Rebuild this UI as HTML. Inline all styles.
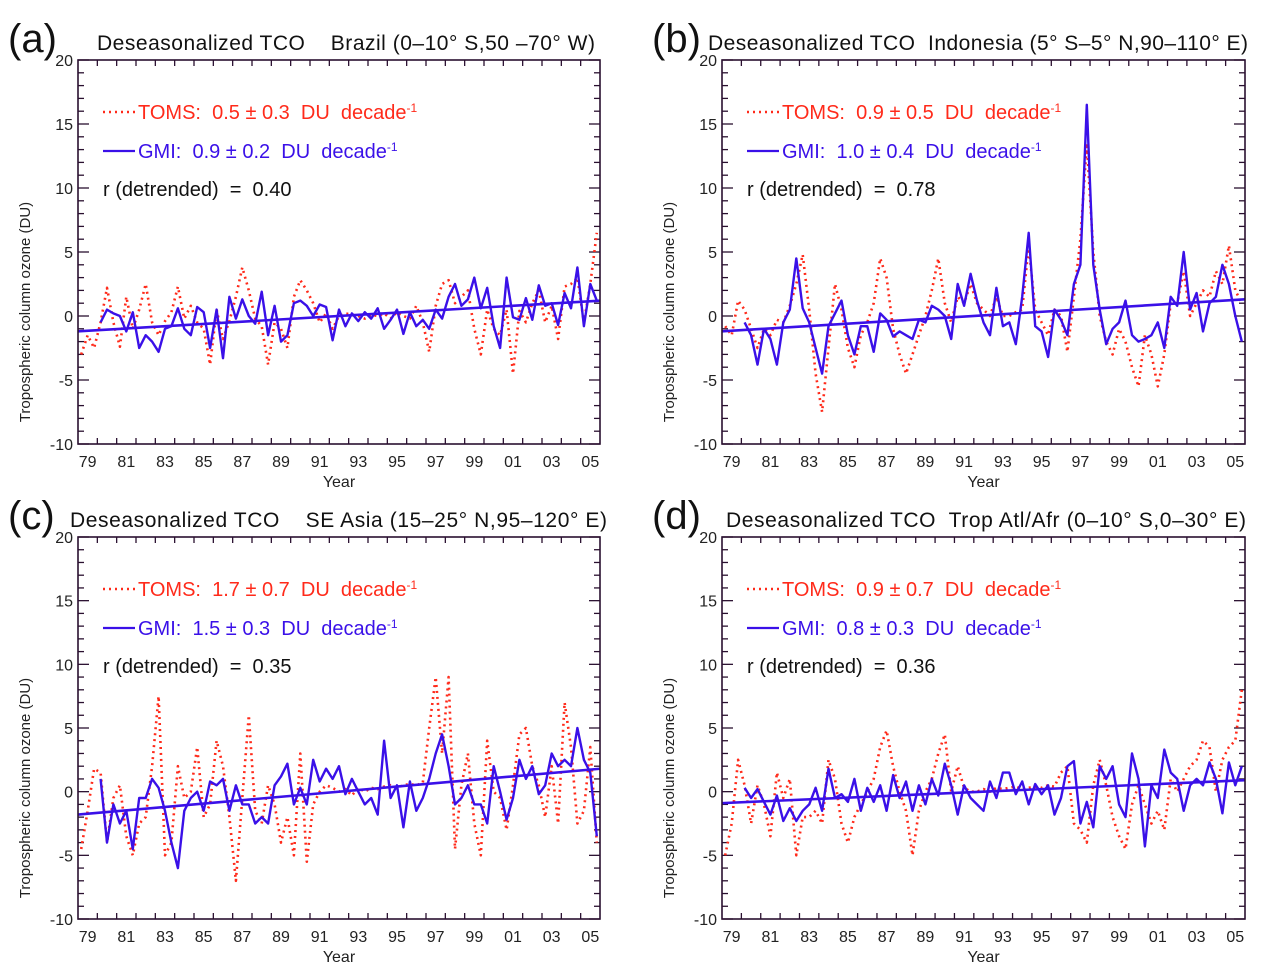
<!DOCTYPE html>
<html><head><meta charset="utf-8">
<style>
body{margin:0;background:#fff;}
svg{display:block;font-family:"Liberation Sans",sans-serif;}
text{white-space:pre;}
</style></head>
<body>
<svg id="fig" width="1261" height="975" viewBox="0 0 1261 975"></svg>
<script>
const panelIds = ["a","b","c","d"];
const panelTitles = ["Deseasonalized TCO    Brazil (0\u201310\u00b0 S,50 \u201370\u00b0 W)",
  "Deseasonalized TCO  Indonesia (5\u00b0 S\u20135\u00b0 N,90\u2013110\u00b0 E)",
  "Deseasonalized TCO    SE Asia (15\u201325\u00b0 N,95\u2013120\u00b0 E)",
  "Deseasonalized TCO  Trop Atl/Afr (0\u201310\u00b0 S,0\u201330\u00b0 E)"];
const titleStart = [97,708,70,726];
const titleEnd = [595,1248,607,1246];
const tomsTrend = ["0.5 \u00b1 0.3","0.9 \u00b1 0.5","1.7 \u00b1 0.7","0.9 \u00b1 0.7"];
const gmiTrend = ["0.9 \u00b1 0.2","1.0 \u00b1 0.4","1.5 \u00b1 0.3","0.8 \u00b1 0.3"];
const rValues = ["0.40","0.78","0.35","0.36"];
const xTickLabels = ["79","81","83","85","87","89","91","93","95","97","99","01","03","05"];
const yTickLabels = [20,15,10,5,0,-5,-10];
const trendStart = [-1.2,-1.2,-1.8,-0.9];
const trendEnd = [1.2,1.3,1.8,0.9];
const N = null;
const tomsA = [-3.0,-1.5,-2.5,-0.5,2.2,-0.5,-2.4,1.5,-1.0,0.5,2.5,-0.5,-1.5,-0.4,0.3,2.3,-0.2,0.8,-0.5,-1.0,-3.8,0.5,-1.8,-0.4,1.5,3.8,2.0,-0.2,-0.8,-3.8,-0.5,-1.0,-2.5,1.5,2.8,2.0,1.0,-0.5,0.2,-1.0,0,0.2,0.1,0,-0.2,0.1,0,0.2,-0.2,0.3,0,-0.2,0.8,-0.5,-2.8,0.8,2.5,2.8,1.0,1.5,2.0,-1.0,-3.0,0.5,-1.0,-1.5,0.5,-4.5,0.4,-0.5,1.0,2.0,-0.5,0.8,-1.8,2.3,2.5,3.0,-0.5,2.5,6.5];
const gmiA = [N,N,N,-0.5,0.5,0.2,0,-1.2,0.3,-2.5,-1.5,-2.0,-2.8,-1,-0.8,0.6,-1,-1.5,0.7,0.3,-2.5,0.5,-3.3,1.5,-0.2,1.3,0,-0.6,1.9,-1.5,0.8,-2.0,-1.5,1.0,1.2,0.8,0,0.9,0.7,-1.9,0.5,-0.8,0.2,-0.4,0.3,-0.2,0.6,-1.0,-0.3,0.5,-1.4,0.3,-0.8,-0.3,-1.0,0.5,-0.2,1.5,2.5,0.8,1.3,3.0,0.6,2.2,-0.8,-2.5,3.0,-0.1,-0.3,1.4,-0.3,2.4,0.8,1.0,-0.7,1.8,0.6,3.8,-0.8,2.5,1.2];
const tomsB = [-0.8,-1.5,1.2,0.5,-1.0,-2.5,-1.0,-1.5,-0.3,-0.5,0.8,2.5,4.8,0.5,-4.5,-7.5,-2.5,2.5,0.5,-2.5,-4.0,-1.5,-0.5,1.0,4.5,3.0,-1.0,-3.0,-4.5,-3.0,-1.5,0,2.0,4.5,1.0,-0.5,1.5,1.0,2.5,1.0,0.5,0,1.5,0,0,0.3,0.5,5.5,0.5,-0.5,-1.5,0.5,0,-2.8,1.5,6.0,13.5,5.0,0,-2.0,-3.0,-1.0,-2.0,-4.0,-5.5,-1.5,-3.0,-5.5,-3.0,1.0,1.0,3.5,0,1.0,2.0,1.5,3.5,2.5,5.5,2.0,1.0];
const gmiB = [N,N,N,-0.5,-1.5,-3.8,-1.0,-1.8,-3.8,-0.5,0.5,4.5,0.6,-0.5,-2.5,-4.5,-0.8,0.2,1.2,-1.5,-3.0,-0.8,-0.8,-2.8,0.2,-0.3,-1.6,-1.2,-1.5,-1.8,-0.3,-0.5,0.8,0.5,0,-1.8,2.5,0.8,3.3,1.2,-0.5,-1.5,2.2,-0.8,-0.5,-2.2,1.5,6.5,-0.8,-1.2,-3.2,0.5,-0.3,-1.5,2.5,4.0,16.5,4.0,0.5,-2.2,-1.0,-0.5,1.2,-1.5,-2.0,-1.8,-1.5,-0.5,-2.5,1.5,0.8,5.0,0.5,1.8,-1.2,1.0,1.5,4.0,2.5,0.0,-2.0];
const tomsC = [-4.5,-1.5,1.8,1.5,-4.0,-0.5,0.5,-3.5,-5.0,-2.5,-2.0,2.0,7.5,-5.0,-4.0,2.0,-0.5,0,3.5,-2.0,-1.0,4.0,2.0,-2.0,-7.0,-0.5,6.0,-1.5,-2.5,0.5,-1.0,-4.0,-2.0,-5.0,3.0,-5.5,-1.0,0,0.5,0.3,0,0.2,-0.3,0.3,0,0.3,0.2,0.4,0.5,0.3,0.5,0.6,0.5,0.7,5.0,9.0,3.0,9.0,-4.5,0.5,3.0,-2.5,-5.0,4.0,0,-0.5,-3.0,0.5,4.5,5.0,2.0,0.5,-2.0,2.0,-2.5,7.0,3.5,-2.5,-1.5,3.5,-4.0];
const gmiC = [N,N,N,1.0,-4.0,-1.0,-2.5,-1.5,-4.5,-0.5,-0.5,1.0,0.3,-1.5,-4.0,-6.0,-1.5,-0.5,0,-1.5,0.8,0.5,1.0,-1.5,0.5,-1.0,-1.0,-2.5,-2.0,-2.5,0.5,1.2,2.2,-1.0,0.3,-1.0,2.5,0.8,1.8,1.0,2.0,-0.2,1.0,0,-1.0,-0.5,-1.8,4.0,-0.5,0.5,-2.8,0.8,-1.5,-0.5,1.0,3.0,4.5,2.0,-1.0,-0.5,0.5,-1.0,-1.0,-2.5,2.0,0,-2.2,-0.5,2.5,1.0,2.0,-0.2,0.5,3.0,2.0,2.5,2.0,5.0,2.5,1.5,-3.5];
const tomsD = [-5.0,-2.5,2.5,0.5,-2.5,0.5,-1.0,-3.5,1.5,-0.5,1.0,-5.0,-2.0,-2.0,-1.5,-2.5,2.5,1.0,-2.5,-4.0,-2.0,-1.0,0,1.0,3.5,4.8,2.0,0,-1.5,-5.0,-1.5,0,1.0,3.0,4.5,0,2.0,0.3,0,0,0.2,0,0.3,0.2,0.3,0.4,0.2,0.3,0.4,0.3,0.5,0.4,1.5,2.0,-2.5,-3.0,-4.0,0.5,2.5,0.5,-2.0,-3.5,-4.5,-1.0,0.5,-1.0,-2.5,-1.5,-3.0,1.0,0,1.0,2.0,2.5,4.0,3.5,0,2.5,3.5,4.0,8.0];
const gmiD = [N,N,N,0.3,-0.5,0.2,-0.8,-1.8,-0.3,-2.3,-1.3,-2.3,-1.5,-1.0,0.3,-1.5,1.8,-0.5,-0.2,-0.8,1.0,-1.5,0.3,-0.8,0.5,-1.5,1.3,-0.5,0.8,-1.5,0.5,-1.0,1.0,-0.3,2.2,0.5,-1.8,0.5,-0.5,-1.0,-1.5,0.8,-0.5,1.5,1.5,-0.2,0.8,-1.0,0.6,-0.2,0.5,-1.8,-0.5,2.0,2.4,-2.5,-0.8,-2.8,2.0,1.0,2.0,-1.0,-2.0,3.0,1.0,-4.3,0.5,-0.5,3.3,1.5,1.0,-1.5,0.5,1.0,0.5,2.3,1.0,-1.7,2.3,0.5,2.0];
const tomsSeries = [tomsA,tomsB,tomsC,tomsD];
const gmiSeries = [gmiA,gmiB,gmiC,gmiD];

const NS = "http://www.w3.org/2000/svg";
const svg = document.getElementById("fig");
function el(tag, attrs, parent, text){
  const e = document.createElementNS(NS, tag);
  for (const k in attrs) e.setAttribute(k, attrs[k]);
  if (text !== undefined) e.textContent = text;
  (parent||svg).appendChild(e);
  return e;
}
const frames = [{x0:78,x1:600,y0:60,y1:444},{x0:722,x1:1245,y0:60,y1:444},{x0:78,x1:600,y0:537,y1:919},{x0:722,x1:1245,y0:537,y1:919}];
const AX = "#2a1030";
const RED = "#ff2a1a", BLUE = "#3a10e8";

panelIds.forEach((pid, p) => {
  const f = frames[p];
  const g = el("g", {});
  
  
  const xs = t => f.x0 + (t - 1979) / 27 * (f.x1 - f.x0);
  const ys = v => f.y1 - (v + 10) / 30 * (f.y1 - f.y0);

  const lab = el("text", {x: f.x0 - 70, y: f.y0 - 8, "font-size": 40, fill: "#111"}, g, "(" + pid + ")");
  
  
  const tt = el("text", {x: titleStart[p], y: f.y0 - 10, "font-size": 21, fill: "#111", textLength: titleEnd[p] - titleStart[p], lengthAdjust: "spacing"}, g, panelTitles[p]);
  
  

  const tk = el("g", {stroke: AX, "stroke-width": 1.3}, g);
  
  
  for (let v = -10; v <= 20; v++) {
    const L = v % 5 === 0 ? 11 : 6, y = ys(v);
    el("line", {x1: f.x0, x2: f.x0 + L, y1: y, y2: y}, tk);
    el("line", {x1: f.x1, x2: f.x1 - L, y1: y, y2: y}, tk);
  }
  for (let yr = 1980; yr < 2006; yr++) {
    const x = xs(yr);
    el("line", {x1: x, x2: x, y1: f.y1, y2: f.y1 - 6}, tk);
    el("line", {x1: x, x2: x, y1: f.y0, y2: f.y0 + 6}, tk);
  }
  yTickLabels.forEach(v => {
    const t = el("text", {x: f.x0 - 5, y: ys(v) + 6, "font-size": 16, fill: "#222", "text-anchor": "end"}, g, String(v));
    
    
  });
  xTickLabels.forEach((s, i) => {
    const t = el("text", {x: xs(1979.5 + 2 * i), y: f.y1 + 23, "font-size": 16, fill: "#222", "text-anchor": "middle"}, g, s);
    
    
  });
  const xt = el("text", {x: (f.x0 + f.x1) / 2, y: f.y1 + 43, "font-size": 16, fill: "#222", "text-anchor": "middle"}, g, "Year");
  
  
  const cy = (f.y0 + f.y1) / 2 + 60;
  const yx = f.x0 - 48;
  const yt = el("text", {x: yx, y: cy, "font-size": 15, fill: "#222", "text-anchor": "middle", transform: `rotate(-90 ${yx} ${cy})`}, g, "Tropospheric column ozone (DU)");
  
  

  const toPath = arr => {
    let d = "", pen = false;
    arr.forEach((v, i) => {
      if (v === null) { pen = false; return; }
      const x = xs(1979 + (i + 0.5) / 3), y = ys(v);
      d += (pen ? "L" : "M") + x.toFixed(1) + " " + y.toFixed(1) + " ";
      pen = true;
    });
    return d;
  };
  const clip = el("clipPath", {id: "clip" + pid}, g);
  el("rect", {x: f.x0, y: f.y0, width: f.x1 - f.x0, height: f.y1 - f.y0}, clip);
  const rs = el("path", {d: toPath(tomsSeries[p]), fill: "none", stroke: RED, "stroke-width": 2.6, "stroke-dasharray": "2 4", "stroke-linejoin": "round", "clip-path": `url(#clip${pid})`}, g);
  
  
  const bs = el("path", {d: toPath(gmiSeries[p]), fill: "none", stroke: BLUE, "stroke-width": 2.4, "stroke-linejoin": "round", "clip-path": `url(#clip${pid})`}, g);
  
  
  const tl = el("line", {x1: xs(1979), y1: ys(trendStart[p]), x2: xs(2006), y2: ys(trendEnd[p]), stroke: BLUE, "stroke-width": 2.6}, g);
  
  

  const fr = el("rect", {x: f.x0, y: f.y0, width: f.x1 - f.x0, height: f.y1 - f.y0, fill: "none", stroke: AX, "stroke-width": 1.6}, g);
  
  

  const lx = f.x0 + 25, ly = f.y0 + 59;
  const lg = el("g", {}, g);
  
  
  el("line", {x1: lx, x2: lx + 32, y1: ly - 7, y2: ly - 7, stroke: RED, "stroke-width": 2.4, "stroke-dasharray": "2 4"}, lg);
  const t1 = el("text", {x: lx + 35, y: ly, "font-size": 20, fill: RED}, lg);
  
  
  el("tspan", {}, t1, "TOMS:  " + tomsTrend[p] + "  DU  decade");
  el("tspan", {dy: -7, "font-size": 12}, t1, "-1");
  el("line", {x1: lx, x2: lx + 32, y1: ly + 32, y2: ly + 32, stroke: BLUE, "stroke-width": 2.2}, lg);
  const t2 = el("text", {x: lx + 35, y: ly + 39, "font-size": 20, fill: BLUE}, lg);
  
  
  el("tspan", {}, t2, "GMI:  " + gmiTrend[p] + "  DU  decade");
  el("tspan", {dy: -7, "font-size": 12}, t2, "-1");
  const t3 = el("text", {x: lx, y: ly + 77, "font-size": 20, fill: "#111"}, lg, "r (detrended)  =  " + rValues[p]);
  
  
});
</script>
</body></html>
